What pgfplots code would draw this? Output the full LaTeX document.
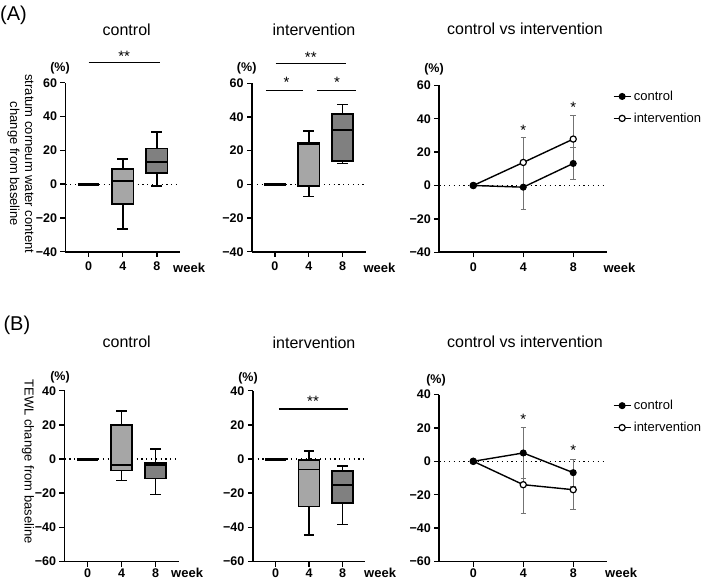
\documentclass[border=0pt]{standalone}
\usepackage{fontspec}
\setmainfont{Liberation Sans}
\usepackage{pgfplots}
\pgfplotsset{compat=1.18}

\definecolor{boxlight}{RGB}{166,166,166}
\definecolor{boxdark}{RGB}{128,128,128}
\definecolor{errgray}{RGB}{115,115,115}

\newcommand{\ticksize}{\fontsize{12.5}{14}\selectfont\bfseries}
\newcommand{\titlesize}{\fontsize{16}{19}\selectfont}
\newcommand{\labsize}{\fontsize{13}{15}\selectfont}
\newcommand{\starsize}{\fontsize{15}{17}\selectfont}

\pgfplotsset{
  panel/.style={
    scale only axis, clip=false,
    axis lines=left,
    axis line style={-, line width=1.8pt},
    tick style={black, line width=1.4pt},
    major tick length=5pt,
    tick align=outside,
    ticklabel style={font=\ticksize},
  },
  rowA/.style={xticklabel style={yshift=-2pt}},
  rowB/.style={xticklabel style={inner sep=1pt, yshift=-1pt}},
  boxpanel/.style={panel, xmin=-0.68, xmax=2.68, xtick={0,1,2}, xticklabels={0,4,8}},
  linepanel/.style={panel, xmin=-2.72, xmax=10.68, xtick={0,4,8}, xticklabels={0,4,8}},
  scaleA/.style={ymin=-40, ymax=60, ytick={-40,-20,0,20,40,60}, yticklabels={−40,−20,0,20,40,60}},
  scaleB/.style={ymin=-60, ymax=40, ytick={-60,-40,-20,0,20,40}, yticklabels={−60,−40,−20,0,20,40}},
  zeroline/.style={black, line width=1.2pt, dash pattern=on 1.2pt off 3.6pt, forget plot},
  sigline/.style={black, line width=1.6pt, forget plot},
  bx/.style={draw=black, line width=1.7pt, forget plot},
  flatbx/.style={draw=black, line width=3pt, forget plot},
  eb/.style={draw=errgray, line width=1pt, forget plot},
  ctrl/.style={black, line width=1.4pt, mark=*, mark size=2.8pt, mark options={fill=black, solid}},
  intv/.style={black, line width=1.4pt, mark=*, mark size=3.1pt, mark options={fill=white, line width=1.2pt, solid}},
  leg/.style={reverse legend, legend cell align=left,
    legend style={at={(1,1)}, anchor=north west, xshift=6pt, yshift=-3pt,
      draw=none, fill=none, font=\labsize, row sep=6pt, inner sep=0pt,
      nodes={inner sep=2.5pt}}},
}

% box-and-whisker glyph: #1 position, #2 lower whisker, #3 lower quartile,
% #4 median, #5 upper quartile, #6 upper whisker, #7 fill colour
\newcommand{\boxglyph}[7]{%
  \pgfmathsetmacro\boxL{#1-0.315}\pgfmathsetmacro\boxR{#1+0.315}%
  \pgfmathsetmacro\capL{#1-0.1575}\pgfmathsetmacro\capR{#1+0.1575}%
  \addplot[bx] coordinates {(#1,#2) (#1,#3)};
  \addplot[bx] coordinates {(#1,#5) (#1,#6)};
  \addplot[bx] coordinates {(\capL,#2) (\capR,#2)};
  \addplot[bx] coordinates {(\capL,#6) (\capR,#6)};
  \addplot[bx, fill=#7] coordinates {(\boxL,#3) (\boxR,#3) (\boxR,#5) (\boxL,#5)} -- cycle;
  \addplot[bx] coordinates {(\boxL,#4) (\boxR,#4)};
}
% mean +- SD bar with caps: #1 week, #2 mean, #3 SD
\newcommand{\sdbar}[3]{%
  \pgfmathsetmacro\eLo{#2-#3}\pgfmathsetmacro\eHi{#2+#3}%
  \pgfmathsetmacro\eL{#1-0.22}\pgfmathsetmacro\eR{#1+0.22}%
  \addplot[eb] coordinates {(#1,\eLo) (#1,\eHi)};
  \addplot[eb] coordinates {(\eL,\eLo) (\eR,\eLo)};
  \addplot[eb] coordinates {(\eL,\eHi) (\eR,\eHi)};
}

\begin{document}
\begin{tikzpicture}
\path[use as bounding box] (0,0) rectangle (709pt,-582pt);

% ---------------- (A) stratum corneum water content ----------------
\node[anchor=west, inner sep=0pt, font=\fontsize{20}{24}\selectfont] at (0pt,-15pt) {(A)};
\node[font=\titlesize] at (126.7pt,-29.3pt) {control};
\node[font=\titlesize] at (314pt,-29.3pt) {intervention};
\node[font=\titlesize] at (525pt,-28.5pt) {control vs intervention};
\node[rotate=-90, align=center, font=\labsize] at (20.5pt,-164pt)
  {stratum corneum water content\\change from baseline};

\begin{axis}[boxpanel, scaleA, rowA, at={(65.5pt,-251.7pt)}, anchor=south west,
  width=114.5pt, height=169pt]
  \addplot[zeroline] coordinates {(-0.68,0) (2.68,0)};
  \addplot[flatbx] coordinates {(-0.315,0) (0.315,0)};
  \boxglyph{1}{-26.4}{-11.8}{2.0}{8.9}{15.0}{boxlight}
  \boxglyph{2}{-1.0}{6.7}{13.0}{21.1}{30.7}{boxdark}
  \addplot[sigline] coordinates {(0,72) (2.08,72)};
  \node[anchor=base, font=\starsize] at (axis cs:1.04,72.8) {**};
\end{axis}
\node[font=\ticksize] at (60pt,-68.3pt) {(\%)};
\node[anchor=base west, inner sep=0pt, font=\labsize\bfseries] at (173pt,-272.5pt) {week};

\begin{axis}[boxpanel, scaleA, rowA, at={(252pt,-251.7pt)}, anchor=south west,
  width=113.5pt, height=168.4pt]
  \addplot[zeroline] coordinates {(-0.68,0) (2.68,0)};
  \addplot[flatbx] coordinates {(-0.315,0) (0.315,0)};
  \boxglyph{1}{-7.2}{-0.8}{24.0}{24.8}{31.8}{boxlight}
  \boxglyph{2}{12.3}{13.7}{32.2}{41.9}{47.5}{boxdark}
  \addplot[sigline] coordinates {(-0.27,55.8) (0.84,55.8)};
  \addplot[sigline] coordinates {(1.24,55.8) (2.39,55.8)};
  \addplot[sigline] coordinates {(0.02,71.8) (2.1,71.8)};
  \node[anchor=base, font=\starsize] at (axis cs:0.34,57.4) {*};
  \node[anchor=base, font=\starsize] at (axis cs:1.84,57.4) {*};
  \node[anchor=base, font=\starsize] at (axis cs:1.06,72.4) {**};
\end{axis}
\node[font=\ticksize] at (246.7pt,-68.3pt) {(\%)};
\node[anchor=base west, inner sep=0pt, font=\labsize\bfseries] at (363.3pt,-272.5pt) {week};

\begin{axis}[linepanel, scaleA, rowA, leg, at={(439.3pt,-252.3pt)}, anchor=south west,
  width=167.4pt, height=167pt]
  \addplot[zeroline] coordinates {(-2.72,0) (10.68,0)};
  \sdbar{4}{13.8}{14.8}
  \sdbar{8}{27.8}{14.2}
  \sdbar{4}{-1.0}{13.6}
  \sdbar{8}{13.2}{9.5}
  \addplot[intv] coordinates {(0,0) (4,13.8) (8,27.8)};
  \addlegendentry{intervention}
  \addplot[ctrl] coordinates {(0,0) (4,-1.0) (8,13.2)};
  \addlegendentry{control}
  \node[anchor=base, font=\starsize] at (axis cs:4,30.2) {*};
  \node[anchor=base, font=\starsize] at (axis cs:8,44.0) {*};
\end{axis}
\node[font=\ticksize] at (434pt,-69pt) {(\%)};
\node[anchor=base west, inner sep=0pt, font=\labsize\bfseries] at (603.3pt,-272.5pt) {week};

% ---------------- (B) TEWL ----------------
\node[anchor=west, inner sep=0pt, font=\fontsize{20}{24}\selectfont] at (3.3pt,-325pt) {(B)};
\node[font=\titlesize] at (126.7pt,-341.7pt) {control};
\node[font=\titlesize] at (314pt,-343pt) {intervention};
\node[font=\titlesize] at (525pt,-342pt) {control vs intervention};
\node[rotate=-90, font=\labsize] at (28pt,-461.5pt) {TEWL change from baseline};

\begin{axis}[boxpanel, scaleB, rowB, at={(64.5pt,-561.5pt)}, anchor=south west,
  width=114.2pt, height=170.8pt]
  \addplot[zeroline] coordinates {(-0.68,0) (2.68,0)};
  \addplot[flatbx] coordinates {(-0.315,0) (0.315,0)};
  \boxglyph{1}{-12.6}{-6.7}{-3.3}{19.9}{28.0}{boxlight}
  \boxglyph{2}{-20.7}{-11.4}{-3.4}{-2.4}{5.7}{boxdark}
\end{axis}
\node[font=\ticksize] at (60pt,-377.5pt) {(\%)};
\node[anchor=base west, inner sep=0pt, font=\labsize\bfseries] at (171pt,-577.5pt) {week};

\begin{axis}[boxpanel, scaleB, rowB, at={(252.8pt,-561.5pt)}, anchor=south west,
  width=112.5pt, height=170.8pt]
  \addplot[zeroline] coordinates {(-0.68,0) (2.68,0)};
  \addplot[flatbx] coordinates {(-0.315,0) (0.315,0)};
  \boxglyph{1}{-44.3}{-27.8}{-6.1}{-0.4}{4.9}{boxlight}
  \boxglyph{2}{-38.4}{-25.7}{-15.4}{-7.1}{-4.0}{boxdark}
  \addplot[sigline] coordinates {(0.1,29.2) (2.16,29.2)};
  \node[anchor=base, font=\starsize] at (axis cs:1.12,30.8) {**};
\end{axis}
\node[font=\ticksize] at (248pt,-378pt) {(\%)};
\node[anchor=base west, inner sep=0pt, font=\labsize\bfseries] at (364pt,-577.5pt) {week};

\begin{axis}[linepanel, scaleB, rowB, leg, at={(439.3pt,-561.5pt)}, anchor=south west,
  width=167.4pt, height=167pt]
  \addplot[zeroline] coordinates {(-2.72,0) (10.68,0)};
  \sdbar{4}{-14.0}{17.4}
  \sdbar{8}{-17.0}{11.7}
  \sdbar{4}{5.0}{15.0}
  \sdbar{8}{-6.8}{8.0}
  \addplot[intv] coordinates {(0,0) (4,-14.0) (8,-17.0)};
  \addlegendentry{intervention}
  \addplot[ctrl] coordinates {(0,0) (4,5.0) (8,-6.8)};
  \addlegendentry{control}
  \node[anchor=base, font=\starsize] at (axis cs:4,22.0) {*};
  \node[anchor=base, font=\starsize] at (axis cs:8,3.6) {*};
\end{axis}
\node[font=\ticksize] at (436pt,-380pt) {(\%)};
\node[anchor=base west, inner sep=0pt, font=\labsize\bfseries] at (605pt,-577.5pt) {week};
\end{tikzpicture}
\end{document}
